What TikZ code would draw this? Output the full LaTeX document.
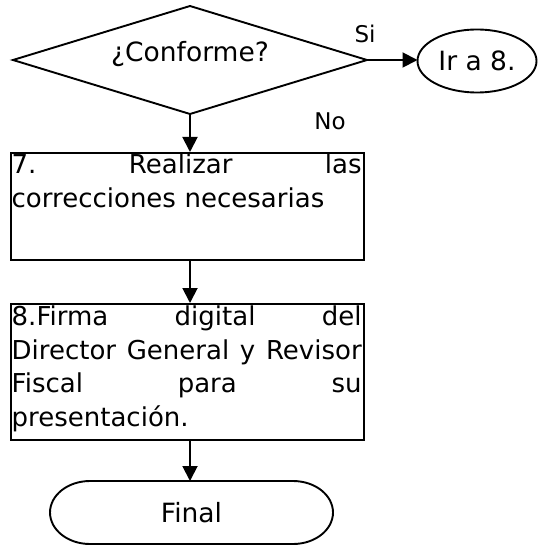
\documentclass[tikz,border=0pt]{standalone}
\usepackage{fontspec}
\setmainfont{DejaVu Sans}
\usetikzlibrary{shapes.geometric,arrows.meta}
\newcommand{\jline}[1]{\leavevmode\hbox to 350pt{#1}}
\begin{document}
\begin{tikzpicture}[x=1pt,y=-1pt,
  every node/.style={font=\fontsize{26.5}{33.5}\selectfont},
  line/.style={line width=1.9pt},
  arr/.style={line width=1.9pt,-{Triangle[length=15pt,width=15pt]}},
  stepbox/.style={draw,line width=1.9pt,rectangle,minimum width=353pt,anchor=north west,inner sep=0pt},
  boxtext/.style={anchor=north west,text width=350pt,align=left,inner sep=0pt,font=\fontsize{26}{33.5}\selectfont},
  lbl/.style={font=\fontsize{23}{27}\selectfont,inner sep=0pt}]
\useasboundingbox (0,0) rectangle (537,545);
\node[draw,line,diamond,minimum width=354pt,minimum height=108pt,aspect=3.28,inner sep=0pt,outer sep=0pt] (dec) at (190,60) {};
\node[inner sep=0pt] (q) at (190,54) {¿Conforme?};
\node[draw,line,ellipse,minimum width=119pt,minimum height=63pt,inner sep=0pt,outer sep=0pt] (ir) at (477,61) {Ir a 8.};
\node[stepbox,minimum height=107pt] (s7) at (10,152) {};
\node[boxtext] (t7) at (11.5,154) {\jline{7.\hfill Realizar\hfill las}\\correcciones necesarias};
\node[stepbox,minimum height=136pt] (s8) at (10,303) {};
\node[boxtext] (t8) at (11.5,306) {\jline{8.Firma\hfill digital\hfill del}\\\jline{Director\hfill General\hfill y\hfill Revisor}\\\jline{Fiscal\hfill para\hfill su}\\presentación.};
\node[minimum width=203pt,minimum height=63pt,inner sep=0pt,outer sep=0pt] (fin) at (191.5,512.5) {Final};
\draw[line] (fin.north west) -- (fin.north east) arc[start angle=90,end angle=-90,x radius=40pt,y radius=31.5pt] -- (fin.south west) arc[start angle=270,end angle=90,x radius=40pt,y radius=31.5pt] -- cycle;
\draw[arr] (dec.east) -- (dec.east -| ir.west);
\draw[arr] (dec.south) -- (dec.south |- s7.north);
\draw[arr] (dec.south |- s7.south) -- (dec.south |- s8.north);
\draw[arr] (dec.south |- s8.south) -- (dec.south |- fin.north);
\node[lbl] (si) at (365,34) {Si};
\node[lbl] (no) at (330,121) {No};
\end{tikzpicture}
\end{document}
